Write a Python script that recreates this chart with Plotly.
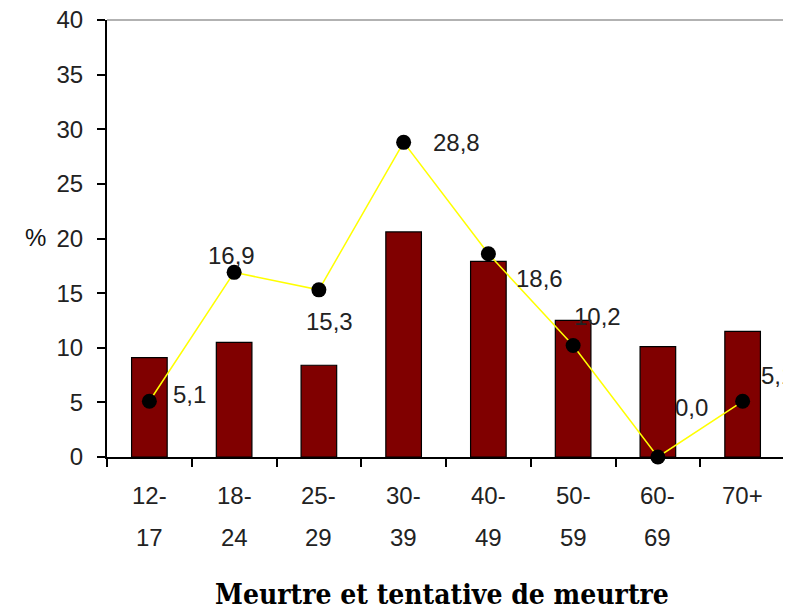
import plotly.graph_objects as go

# age groups (top line / bottom line of each tick label)
categories = ["12-17", "18-24", "25-29", "30-39", "40-49", "50-59", "60-69", "70+"]
label_top = ["12-", "18-", "25-", "30-", "40-", "50-", "60-", "70+"]
label_bottom = ["17", "24", "29", "39", "49", "59", "69", ""]
# bar series (%)
bar_values = [9.1, 10.5, 8.4, 20.6, 17.9, 12.5, 10.1, 11.5]
# line series (%) and its labels
line_values = [5.1, 16.9, 15.3, 28.8, 18.6, 10.2, 0.0, 5.1]
line_labels = ["5,1", "16,9", "15,3", "28,8", "18,6", "10,2", "0,0", "5,1"]
# pixel offsets of each data label from its marker
label_dx = [40, -3, 11, 53, 51, 24, 34, 35]
label_dy = [7, 17, -32, 0, -25, 29, 50, 26]
y_ticks = [0, 5, 10, 15, 20, 25, 30, 35, 40]

fig = go.Figure()

fig.add_trace(go.Bar(
    x=categories, y=bar_values,
    marker=dict(color="#800000", line=dict(color="black", width=1.2)),
    width=0.42,
))

fig.add_trace(go.Scatter(
    x=categories, y=line_values,
    mode="lines+markers",
    line=dict(color="#ffff00", width=1.5),
    marker=dict(color="black", size=15),
    cliponaxis=False,
))

annotations = [
    dict(text="%", xref="paper", yref="paper", x=-0.124, y=0.503,
         showarrow=False, font=dict(size=24, color="#111")),
    dict(text="<b>Meurtre et tentative de meurtre</b>", xref="paper", yref="paper",
         x=0.494, y=-0.314, yanchor="middle", showarrow=False,
         font=dict(family="DejaVu Serif Condensed, DejaVu Serif", size=28, color="black")),
]
for c, v, t, dx, dy in zip(categories, line_values, line_labels, label_dx, label_dy):
    annotations.append(dict(text=t, x=c, y=v, xref="x", yref="y",
                            xshift=dx, yshift=dy, showarrow=False))
for c, top, bottom in zip(categories, label_top, label_bottom):
    annotations.append(dict(text=top, x=c, xref="x", y=0, yref="paper",
                            yanchor="middle", yshift=-38, showarrow=False))
    if bottom:
        annotations.append(dict(text=bottom, x=c, xref="x", y=0, yref="paper",
                                yanchor="middle", yshift=-80, showarrow=False))

fig.update_layout(
    width=783, height=597,
    margin=dict(l=99, r=6, t=12, b=148),
    plot_bgcolor="white", paper_bgcolor="white",
    showlegend=False,
    font=dict(family="Liberation Sans, Arial", size=24, color="#222"),
    xaxis=dict(
        range=[-0.5, len(categories) - 0.5],
        showline=True, linecolor="black", linewidth=2,
        ticks="outside", ticklen=8, tickcolor="black", tickwidth=2,
        tickson="boundaries", showgrid=False, showticklabels=False,
        automargin=False,
    ),
    yaxis=dict(
        range=[0, 40], tickvals=y_ticks,
        showline=True, linecolor="black", linewidth=2,
        ticks="outside", ticklen=8, tickcolor="black", tickwidth=2,
        ticklabelstandoff=9, ticklabeloverflow="allow",
        showgrid=False, zeroline=False, automargin=False,
    ),
    shapes=[
        dict(type="line", xref="paper", yref="paper", x0=0, x1=1, y0=1, y1=1,
             line=dict(color="#999", width=1.5)),
        dict(type="line", xref="paper", yref="paper", x0=1, x1=1, y0=0, y1=1,
             line=dict(color="#999", width=1.5)),
    ],
    annotations=annotations,
)

fig.write_html("out.html")
